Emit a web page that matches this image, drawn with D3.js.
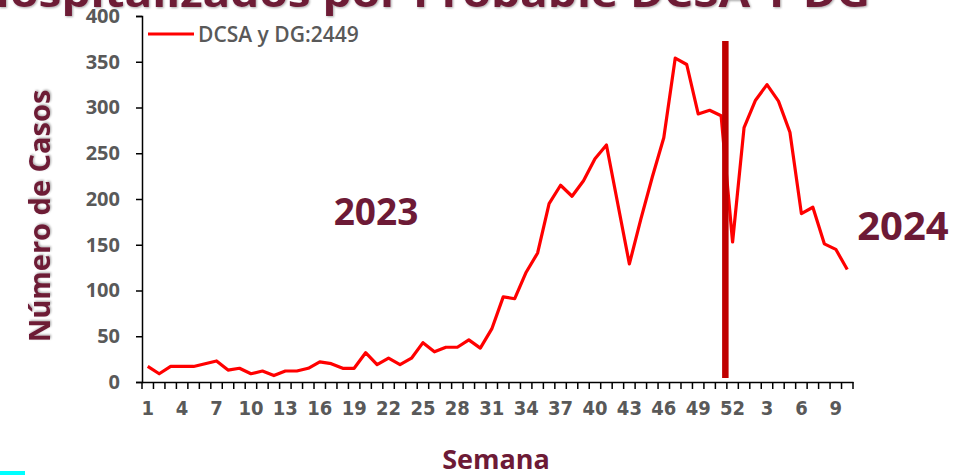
<!DOCTYPE html>
<html>
<head>
<meta charset="utf-8">
<script src="https://cdn.jsdelivr.net/npm/d3@7"></script>
<style>
  body { margin: 0; background: #fff; }
  svg { display: block; font-family: "Open Sans", sans-serif; }
</style>
</head>
<body>
<svg width="979" height="475"></svg>
<script>
"use strict";

// weekly cases
const weeks2023 = d3.range(1, 53);
const weeks2024 = d3.range(1, 11);
const cases2023 = [
  17, 9, 17, 17, 17, 20, 23, 13, 15, 9,
  12, 7, 12, 12, 15, 22, 20, 15, 15, 32,
  19, 26, 19, 26, 43, 33, 38, 38, 46, 37,
  58, 93, 91, 120, 141, 195, 215, 203, 220, 244,
  259, 194, 129, 178, 224, 267, 354, 347, 293, 297,
  291, 153
];
const cases2024 = [278, 308, 325, 307, 273, 184, 191, 151, 145, 123];
const yTicks = [0, 50, 100, 150, 200, 250, 300, 350, 400];
const legendLabel = "DCSA y DG:2449";
const titleText = "Hospitalizados por Probable DCSA Y DG";

const maroon = "#6d1a36";
const grey = "#595959";

window.addEventListener("load", drawGraph);

function drawGraph() {
  const svg = d3.select("svg");

  const data = weeks2023
    .map((w, i) => ({ key: "2023-" + w, week: w, value: cases2023[i] }))
    .concat(weeks2024.map((w, i) => ({ key: "2024-" + w, week: w, value: cases2024[i] })));

  const x = d3
    .scaleBand()
    .domain(data.map((d) => d.key))
    .range([142, 853])
    .padding(0);

  const y = d3.scaleLinear().domain([0, 400]).range([382, 16]);

  const defs = svg.append("defs");
  defs
    .append("filter")
    .attr("id", "shadow")
    .append("feDropShadow")
    .attr("dx", 1)
    .attr("dy", 1)
    .attr("stdDeviation", 1.2)
    .attr("flood-color", "#000")
    .attr("flood-opacity", 0.35);

  // title, mostly cut off by the top edge
  svg
    .append("text")
    .attr("x", -25)
    .attr("y", 7)
    .attr("textLength", 895)
    .attr("lengthAdjust", "spacingAndGlyphs")
    .style("font-size", "40px")
    .style("font-weight", "700")
    .style("fill", maroon)
    .attr("filter", "url(#shadow)")
    .text(titleText);

  // y axis
  const yAxis = svg
    .append("g")
    .attr("transform", "translate(142,0)")
    .call(d3.axisLeft(y).tickValues(yTicks).tickSize(6).tickPadding(16));
  yAxis.select(".domain").attr("stroke", "#000").attr("stroke-width", 1.5);
  yAxis.selectAll(".tick line").attr("stroke", "#000").attr("stroke-width", 1.5);
  yAxis
    .selectAll("text")
    .style("font-size", "20px")
    .style("font-weight", "700")
    .style("font-family", '"Open Sans", sans-serif')
    .style("fill", grey);

  // x axis: labels every third week, tick marks between all weeks
  const xAxis = svg
    .append("g")
    .attr("transform", "translate(0,382)")
    .call(
      d3
        .axisBottom(x)
        .tickValues(data.filter((d, i) => i % 3 === 0).map((d) => d.key))
        .tickFormat((k) => k.split("-")[1])
        .tickSize(0)
        .tickPadding(19)
    );
  xAxis.select(".domain").attr("stroke", "#000").attr("stroke-width", 1.5);
  xAxis
    .selectAll("text")
    .style("font-size", "20px")
    .style("font-weight", "700")
    .style("font-family", '"Liberation Sans Narrow", "DejaVu Sans Condensed", sans-serif')
    .style("fill", grey);

  const bounds = data.map((d) => x(d.key)).concat([x.range()[1]]);
  svg
    .append("g")
    .selectAll("line")
    .data(bounds)
    .enter()
    .append("line")
    .attr("x1", (d) => d)
    .attr("x2", (d) => d)
    .attr("y1", 382)
    .attr("y2", 389)
    .attr("stroke", "#000")
    .attr("stroke-width", 1.5);

  // the series
  const line = d3
    .line()
    .x((d) => x(d.key) + x.bandwidth() / 2)
    .y((d) => y(d.value));

  svg
    .append("path")
    .datum(data)
    .attr("d", line)
    .attr("fill", "none")
    .attr("stroke", "#ff0000")
    .attr("stroke-width", 3.2)
    .attr("stroke-linejoin", "round");

  // year separator between week 51 and 52
  const sepX = x("2023-52") - 1.5;
  svg
    .append("line")
    .attr("x1", sepX)
    .attr("x2", sepX)
    .attr("y1", 41)
    .attr("y2", 378)
    .attr("stroke", "#c00000")
    .attr("stroke-width", 6.5);

  // legend
  svg
    .append("line")
    .attr("x1", 148)
    .attr("x2", 194)
    .attr("y1", 34)
    .attr("y2", 34)
    .attr("stroke", "#ff0000")
    .attr("stroke-width", 3.2);
  svg
    .append("text")
    .attr("x", 198)
    .attr("y", 42)
    .style("font-size", "21px")
    .style("font-weight", "600")
    .style("fill", grey)
    .text(legendLabel);

  // year labels
  svg
    .append("text")
    .attr("x", 376)
    .attr("y", 225)
    .attr("text-anchor", "middle")
    .style("font-size", "37px")
    .style("font-weight", "700")
    .style("fill", maroon)
    .text("2023");
  svg
    .append("text")
    .attr("x", 903)
    .attr("y", 240)
    .attr("text-anchor", "middle")
    .style("font-size", "40px")
    .style("font-weight", "700")
    .style("fill", maroon)
    .text("2024");

  // axis titles
  svg
    .append("text")
    .attr("transform", "translate(50,216) rotate(-90)")
    .attr("text-anchor", "middle")
    .style("font-size", "29px")
    .style("font-weight", "700")
    .style("fill", maroon)
    .attr("filter", "url(#shadow)")
    .text("Número de Casos");
  svg
    .append("text")
    .attr("x", 496)
    .attr("y", 469)
    .attr("text-anchor", "middle")
    .style("font-size", "27px")
    .style("font-weight", "700")
    .style("fill", maroon)
    .text("Semana");

  // little cyan mark in the bottom-left corner
  svg
    .append("rect")
    .attr("x", 0)
    .attr("y", 471)
    .attr("width", 25)
    .attr("height", 4)
    .attr("fill", "#00ffff");
}
</script>
</body>
</html>
